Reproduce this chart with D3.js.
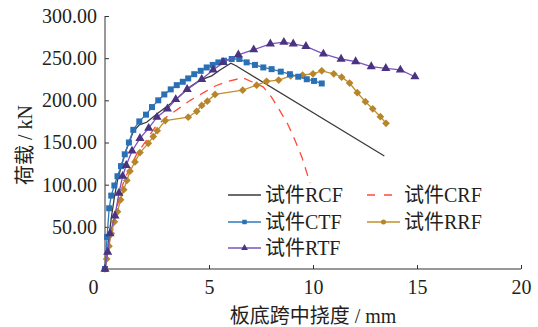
<!DOCTYPE html>
<html>
<head>
<meta charset="utf-8">
<script src="https://cdn.jsdelivr.net/npm/d3@7"></script>
<style>
  body { margin: 0; background: #fff; }
  text { fill: #231f20; }
</style>
</head>
<body>
<div class="canvas"></div>
<script>
// data: [deflection mm, load kN]
const rcf = [[0,0],[0.15,30],[0.3,60],[0.45,85],[0.6,105],[0.8,123],[1.0,140],[1.36,163],[1.65,171],[2.0,174],[2.6,186],[3.37,200],[4.09,216],[4.57,224],[5.13,229],[5.53,236],[6.05,244],[6.3,241],[13.43,134]];
const crf = [[0,0],[0.2,25],[0.4,50],[0.6,75],[0.85,100],[1.1,115],[1.5,135],[2.0,153],[2.4,168],[3.0,181],[3.7,193],[4.1,200],[4.8,210],[5.3,217],[5.85,222],[6.33,225],[6.6,227],[7.05,222],[7.6,216],[8.0,204],[8.4,188],[8.8,171],[9.13,153],[9.46,133],[9.86,102]];
const ctf = [[0,0],[0.1,38],[0.2,72],[0.3,87],[0.45,99],[0.6,110],[0.77,122],[0.95,136],[1.15,150],[1.36,165],[1.65,175],[1.97,183],[2.26,192],[2.56,200],[2.85,207],[3.16,213],[3.45,218],[3.74,222],[4.0,226],[4.29,231],[4.6,235],[4.89,239],[5.18,242],[5.45,245],[5.72,247],[6.09,249],[6.46,249],[6.81,245],[7.21,242],[7.61,239],[8.01,237],[8.45,234],[8.89,231],[9.29,228],[9.7,225],[10.05,223],[10.42,220]];
const rrf = [[0,0],[0.08,12],[0.19,27],[0.3,42],[0.45,56],[0.6,68],[0.75,82],[0.9,94],[1.05,105],[1.2,116],[1.44,127],[1.68,138],[2.08,149],[2.32,157],[2.51,164],[2.9,176],[4.0,180],[4.41,187],[4.65,194],[4.92,199],[5.29,207],[6.62,212],[7.29,218],[7.77,222.5],[8.35,224],[8.93,229],[9.5,230],[10.0,231.5],[10.42,235],[11.0,231.5],[11.38,227.5],[11.76,220.5],[12.13,209],[12.52,198.4],[12.87,190],[13.24,180.6],[13.51,172.8]];
const rtf = [[0,0],[0.13,20],[0.24,42],[0.48,63],[0.67,90],[0.85,110],[1.02,123],[1.3,140],[1.68,155],[2.1,167],[2.5,180],[3.0,190],[3.4,201],[3.95,213],[4.65,225],[5.2,236],[5.68,245],[6.41,254],[7.15,260],[7.95,267],[8.6,269],[9.05,267],[9.66,264],[10.5,255],[11.35,249],[12.05,246],[12.8,240],[13.5,238],[14.2,236],[14.9,228]];

const xTicks = [0, 5, 10, 15, 20];
const yTicks = [50, 100, 150, 200, 250, 300];

const series = [
  { name: "试件RCF", data: rcf, color: "#3a3a3a", marker: null, dash: null },
  { name: "试件CRF", data: crf, color: "#ff4a3a", marker: null, dash: "9,7" },
  { name: "试件RRF", data: rrf, color: "#c0902e", marker: d3.symbolSquare, rot: 45, mcolor: "#b8862a", msize: 30 },
  { name: "试件CTF", data: ctf, color: "#2f79bd", marker: d3.symbolSquare, rot: 0, mcolor: "#2a70b4", msize: 36 },
  { name: "试件RTF", data: rtf, color: "#7b52c0", marker: d3.symbolTriangle, rot: 0, mcolor: "#4a3380", msize: 36 }
];

const serif = "'Liberation Serif', 'Times New Roman', serif";
const cjk = "'Liberation Serif', 'Noto Sans CJK SC', serif";

const svg = d3.select(".canvas").append("svg")
  .attr("width", 538).attr("height", 327);

const x = d3.scaleLinear().domain([0, 20]).range([105, 521]);
const y = d3.scaleLinear().domain([0, 300]).range([269, 16]);

// axes
const xAxis = svg.append("g")
  .attr("transform", "translate(0,269)")
  .call(d3.axisBottom(x).tickValues(xTicks).tickSizeInner(-4).tickSizeOuter(0).tickPadding(11).tickFormat(d3.format("d")));
xAxis.selectAll("text").filter(d => d === 0).attr("x", -12);

const yAxis = svg.append("g")
  .attr("transform", "translate(105,0)")
  .call(d3.axisLeft(y).tickValues(yTicks).tickSizeInner(-4).tickSizeOuter(0).tickPadding(8).tickFormat(d => d.toFixed(2)));

[xAxis, yAxis].forEach(a => {
  a.select(".domain").attr("stroke", "#333").attr("stroke-width", 1);
  a.selectAll(".tick line").attr("stroke", "#333");
  a.selectAll("text").attr("font-family", serif).attr("font-size", 20).attr("fill", "#231f20");
});
yAxis.select(".domain").attr("d", "M0,269V16");
xAxis.select(".domain").attr("d", "M105,0H521");

// axis titles
svg.append("text")
  .attr("x", 313).attr("y", 323)
  .attr("text-anchor", "middle")
  .attr("font-family", cjk).attr("font-size", 20)
  .text("板底跨中挠度 / mm");

svg.append("text")
  .attr("transform", "translate(32,145) rotate(-90)")
  .attr("text-anchor", "middle")
  .attr("font-family", cjk).attr("font-size", 20)
  .text("荷载 / kN");

// lines
const line = d3.line().x(d => x(d[0])).y(d => y(d[1]));

series.forEach(s => {
  svg.append("path")
    .datum(s.data)
    .attr("fill", "none")
    .attr("stroke", s.color)
    .attr("stroke-width", 1.3)
    .attr("stroke-dasharray", s.dash)
    .attr("d", line);
  if (s.marker) {
    svg.append("g").selectAll("path")
      .data(s.data)
      .join("path")
      .attr("transform", d => `translate(${x(d[0])},${y(d[1])}) rotate(${s.rot})`)
      .attr("d", d3.symbol().type(s.marker).size(s.msize))
      .attr("fill", s.mcolor);
  }
});

// legend
const legendItems = [
  { s: series[0], lx: 228, ty: 195 },
  { s: series[1], lx: 367, ty: 195 },
  { s: series[3], lx: 228, ty: 222 },
  { s: series[2], lx: 367, ty: 222 },
  { s: series[4], lx: 228, ty: 248 }
];
const legendSymbols = { "试件CTF": d3.symbolSquare, "试件RRF": d3.symbolCircle, "试件RTF": d3.symbolTriangle };

const legend = svg.append("g");
legendItems.forEach(it => {
  const g = legend.append("g");
  g.append("line")
    .attr("x1", it.lx).attr("x2", it.lx + 33)
    .attr("y1", it.ty).attr("y2", it.ty)
    .attr("stroke", it.s.color).attr("stroke-width", 1.3)
    .attr("stroke-dasharray", it.s.dash ? "8,9" : null);
  if (legendSymbols[it.s.name]) {
    g.append("path")
      .attr("transform", `translate(${it.lx + 16.5},${it.ty})`)
      .attr("d", d3.symbol().type(legendSymbols[it.s.name]).size(20))
      .attr("fill", it.s.mcolor);
  }
  g.append("text")
    .attr("x", it.lx + 37).attr("y", it.ty + 7)
    .attr("font-family", cjk).attr("font-size", 20)
    .text(it.s.name);
});
</script>
</body>
</html>
